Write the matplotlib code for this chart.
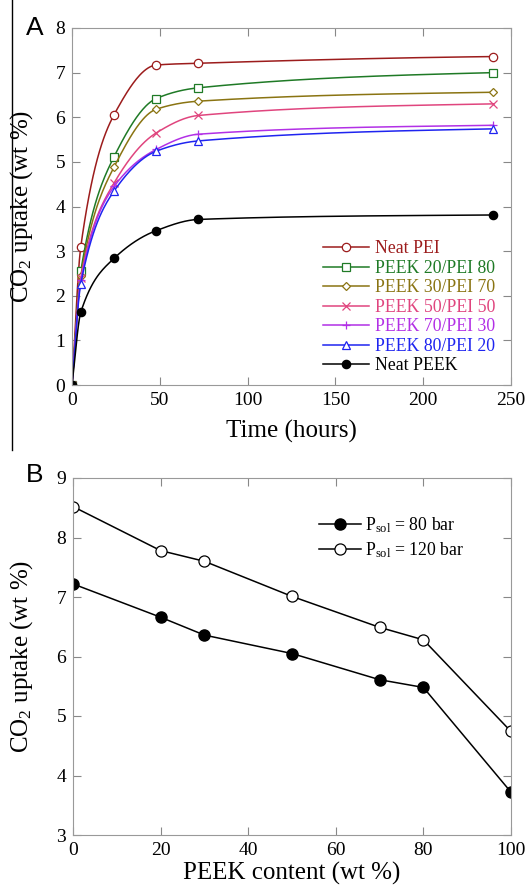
import numpy as np
import matplotlib
matplotlib.use("Agg")
import matplotlib.pyplot as plt
from matplotlib.lines import Line2D

plt.rcParams['font.family'] = ['Liberation Serif', 'DejaVu Serif']
plt.rcParams['mathtext.fontset'] = 'custom'
plt.rcParams['mathtext.rm'] = 'Liberation Serif'
plt.rcParams['mathtext.it'] = 'Liberation Serif:italic'

# Panel A data: CO2 uptake vs time
time_h = [0, 5, 24, 48, 72, 240]
neat_pei = [0, 3.10, 6.06, 7.17, 7.21, 7.36]
peek20 = [0, 2.55, 5.12, 6.42, 6.66, 7.00]
peek30 = [0, 2.45, 4.89, 6.18, 6.36, 6.56]
peek50 = [0, 2.40, 4.53, 5.65, 6.04, 6.30]
peek70 = [0, 2.35, 4.45, 5.28, 5.62, 5.82]
peek80 = [0, 2.27, 4.35, 5.24, 5.47, 5.74]
neat_peek = [0, 1.63, 2.84, 3.46, 3.71, 3.81]

# Panel B data: CO2 uptake vs PEEK content
peek_content = [0, 20, 30, 50, 70, 80, 100]
uptake_80bar = [7.22, 6.66, 6.36, 6.05, 5.61, 5.48, 3.72]
uptake_120bar = [8.52, 7.78, 7.60, 7.01, 6.49, 6.28, 4.74]


def pchip(x, y, n=400):
    # monotone cubic for drawing a smooth line through the points
    x = np.asarray(x, float)
    y = np.asarray(y, float)
    h = np.diff(x)
    d = np.diff(y) / h
    m = np.zeros_like(y)
    for k in range(1, len(x) - 1):
        if d[k - 1] * d[k] > 0:
            w1 = 2 * h[k] + h[k - 1]
            w2 = h[k] + 2 * h[k - 1]
            m[k] = (w1 + w2) / (w1 / d[k - 1] + w2 / d[k])
    m[0] = d[0]
    m[-1] = d[-1] * 0.5
    xs = np.linspace(x[0], x[-1], n)
    idx = np.clip(np.searchsorted(x, xs) - 1, 0, len(h) - 1)
    t = (xs - x[idx]) / h[idx]
    h00 = 2 * t**3 - 3 * t**2 + 1
    h10 = t**3 - 2 * t**2 + t
    h01 = -2 * t**3 + 3 * t**2
    h11 = t**3 - t**2
    ys = h00 * y[idx] + h10 * h[idx] * m[idx] + h01 * y[idx + 1] + h11 * h[idx] * m[idx + 1]
    return xs, ys


fig = plt.figure(figsize=(5.32, 8.85), dpi=100)
W, H = 532, 885
axA = fig.add_axes([72 / W, 1 - 385 / H, 439 / W, 357 / H])
axB = fig.add_axes([73 / W, 1 - 835 / H, 438 / W, 357 / H])

series = [
    ("Neat PEI", neat_pei, "#9c1c1c", "o", "white"),
    ("PEEK 20/PEI 80", peek20, "#1f7a26", "s", "white"),
    ("PEEK 30/PEI 70", peek30, "#8a7412", "D", "white"),
    ("PEEK 50/PEI 50", peek50, "#e0457e", "x", "white"),
    ("PEEK 70/PEI 30", peek70, "#b230e6", "+", "white"),
    ("PEEK 80/PEI 20", peek80, "#1f24f0", "^", "white"),
    ("Neat PEEK", neat_peek, "black", "o", "black"),
]

handles = []
for name, vals, col, mk, fc in series:
    xs, ys = pchip(time_h, vals)
    axA.plot(xs, ys, color=col, lw=1.1)
    ms = 4.5 if mk == "D" else 6
    axA.plot(time_h, vals, ls="none", marker=mk, ms=ms, mfc=fc, mec=col, mew=0.9)
    handles.append(Line2D([], [], color=col, lw=1.1, marker=mk, ms=ms, mfc=fc, mec=col, mew=0.9))

axA.plot([0], [0], ls="none", marker="s", ms=5, color="black")

leg = axA.legend(handles, [s[0] for s in series], loc="lower right",
                 bbox_to_anchor=(1.0, -0.015), frameon=False, fontsize=12.8,
                 handlelength=2.6, handletextpad=0.3, labelspacing=0.14)
for txt, s in zip(leg.get_texts(), series):
    txt.set_color(s[2])

axA.set_xlim(0, 250)
axA.set_ylim(0, 8)
axA.set_xticks([0, 50, 100, 150, 200, 250])
axA.set_yticks(range(0, 9))
axA.set_xlabel("Time (hours)", fontsize=18, labelpad=8)
axA.set_ylabel("CO$_2$ uptake (wt %)", fontsize=18)
axA.yaxis.set_label_coords(-0.085, 0.5)

axB.plot(peek_content, uptake_80bar, color="black", lw=1.1, marker="o", ms=8,
         mfc="black", mec="black", label=r"P$_{\mathregular{sol}}$ = 80 bar")
axB.plot(peek_content, uptake_120bar, color="black", lw=1.1, marker="o", ms=8,
         mfc="white", mec="black", mew=0.9, label=r"P$_{\mathregular{sol}}$ = 120 bar")
axB.set_xlim(0, 100)
axB.set_ylim(3, 9)
axB.set_xticks(range(0, 101, 20))
axB.set_yticks(range(3, 10))
axB.set_xlabel("PEEK content (wt %)", fontsize=18, labelpad=2)
axB.set_ylabel("CO$_2$ uptake (wt %)", fontsize=18)
axB.yaxis.set_label_coords(-0.087, 0.5)
axB.legend(loc="upper right", bbox_to_anchor=(0.93, 0.94), frameon=False, fontsize=12.8,
           handlelength=2.4, handletextpad=0.2, labelspacing=0.3)

for ax in (axA, axB):
    ax.tick_params(direction="in", top=True, right=True, length=6, width=0.8,
                   color="#888888", labelsize=14, pad=5)
    for sp in ax.spines.values():
        sp.set_color("#999999")
        sp.set_linewidth(0.8)

fig.text(26 / W, 1 - 28 / H, "A", family="Liberation Sans", fontsize=19, va="center")
fig.text(26 / W, 1 - 475 / H, "B", family="Liberation Sans", fontsize=19, va="center")
fig.add_artist(Line2D([12 / W, 12 / W], [1, 1 - 450 / H], color="black", lw=1))

fig.savefig("out.png", dpi=100)
